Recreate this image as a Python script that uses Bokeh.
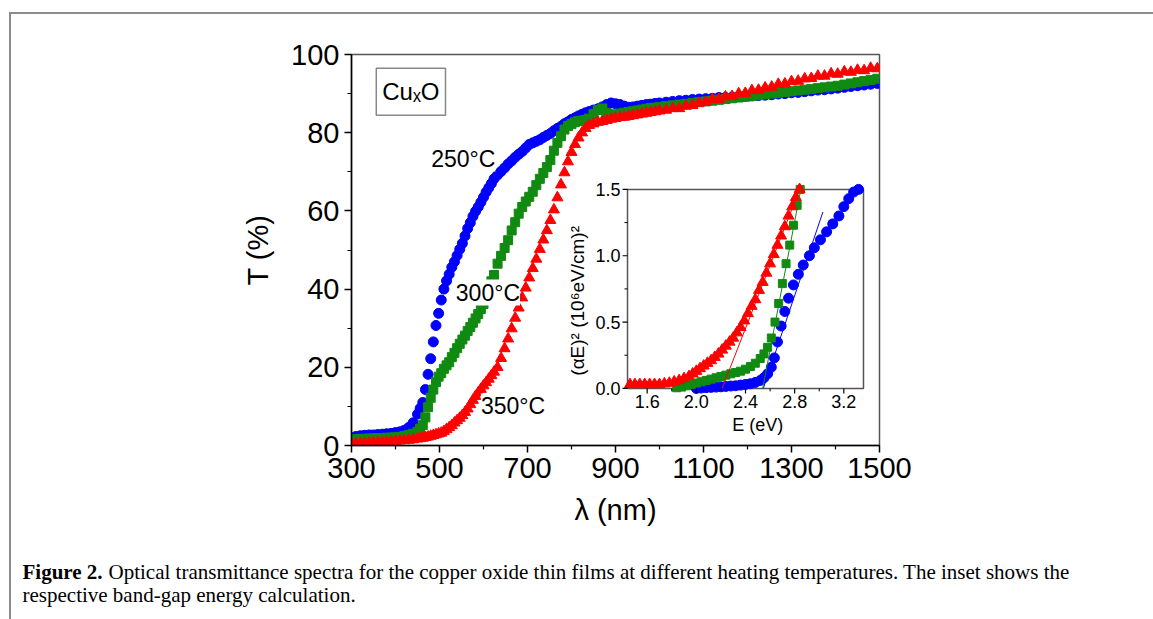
from math import pi
from bokeh.plotting import figure
from bokeh.layouts import column
from bokeh.models import Range1d, FixedTicker, Label
from bokeh.core.properties import value
from bokeh.embed import file_html
from bokeh.resources import INLINE

# ---------------- main spectra (wavelength in nm, transmittance in %) ----------------
WL = [300, 310, 320, 330, 340, 350, 360, 370, 380, 390, 400, 410, 420, 430, 440, 450,
      456, 462, 468, 474, 480, 486, 492, 498, 504, 510, 516, 522, 528, 534, 540, 546, 552,
      558, 564, 570, 576, 582, 588, 594, 600, 606, 612, 618, 624,
      632, 640, 648, 656, 664, 672, 680, 688, 696, 704, 712, 720, 728, 736, 744, 752, 760,
      768, 776, 784, 792, 800, 808, 816, 824, 832, 840,
      850, 860, 870, 880, 890, 900, 910, 920, 930, 940, 950, 960, 970, 980, 990, 1000,
      1015, 1030, 1045, 1060, 1075, 1090, 1105, 1120, 1135, 1150, 1165, 1180, 1195, 1210,
      1225, 1240, 1255, 1270, 1285, 1300, 1315, 1330, 1345, 1360, 1375, 1390, 1405, 1420,
      1435, 1450, 1465, 1480, 1495]

T_250 = [2.0, 2.3, 2.5, 2.6, 2.7, 2.7, 2.8, 2.9, 3.0, 3.1, 3.3, 3.5, 3.9, 4.6, 5.8, 8.0,
         9.5, 11.0, 14.3, 18.2, 22.2, 26.5, 30.7, 33.8, 37.2, 40.0, 42.1, 43.8, 45.6, 47.0, 48.6,
         50.2, 51.7, 53.6, 55.5, 57.0, 58.6, 59.9, 61.0, 62.2, 63.5, 64.8, 65.9, 67.0, 68.2,
         69.2, 70.1, 71.0, 72.0, 72.8, 73.7, 74.5, 75.2, 76.1, 77.0, 77.4, 77.8, 78.2, 78.8,
         79.3, 79.8, 80.5, 81.1, 81.6, 82.3, 82.8, 83.4, 83.8, 84.3, 84.7, 85.1, 85.4,
         85.8, 86.1, 86.6, 87.2, 87.6, 87.4, 87.2, 86.8, 86.5, 86.6, 86.8, 87.0, 87.2, 87.3,
         87.5, 87.6,
         87.8, 88.0, 88.2, 88.3, 88.5, 88.6, 88.7, 88.8, 89.0, 89.0, 89.1, 89.2, 89.3, 89.4,
         89.5, 89.6, 89.7, 89.9, 90.0, 90.2, 90.3, 90.5, 90.7, 90.9, 91.0, 91.2, 91.4, 91.6,
         91.8, 92.0, 92.2, 92.4, 92.6]

T_300 = [1.5, 1.6, 1.7, 1.7, 1.8, 1.8, 1.9, 1.9, 2.0, 2.0, 2.1, 2.2, 2.4, 2.7, 3.0, 3.5,
         4.3, 5.2, 7.2, 9.8, 12.2, 14.3, 16.2, 17.6, 18.5, 19.6, 20.5, 21.3, 22.6, 23.7, 24.9,
         26.0, 27.1, 28.1, 29.3, 30.3, 31.4, 32.5, 33.6, 34.9, 36.2, 38.0, 40.0, 42.0, 43.6,
         46.5, 48.5, 50.5, 52.5, 55.0, 57.1, 59.3, 61.0, 62.4, 63.6, 64.9, 66.6, 68.2, 69.7,
         71.2, 73.0, 75.4, 77.4, 79.1, 80.8, 81.7, 82.2, 82.7, 83.0, 83.1, 83.3, 83.6,
         84.8, 85.8, 86.2, 85.0, 84.6, 84.7, 84.9, 85.1, 85.3, 85.5, 85.7, 85.9, 86.1, 86.3,
         86.4, 86.6,
         86.8, 87.0, 87.2, 87.4, 87.6, 87.8, 88.0, 88.2, 88.4, 88.6, 88.8, 89.0, 89.2, 89.4,
         89.6, 89.8, 90.0, 90.2, 90.4, 90.6, 90.8, 91.0, 91.2, 91.4, 91.6, 91.8, 92.0, 92.3,
         92.6, 92.9, 93.2, 93.5, 93.8]

T_350 = [0.5, 0.5, 0.6, 0.6, 0.7, 0.7, 0.8, 0.8, 0.9, 1.0, 1.1, 1.2, 1.3, 1.4, 1.5, 1.7,
         1.8, 1.9, 2.1, 2.2, 2.4, 2.6, 2.8, 3.0, 3.2, 3.6, 4.1, 4.6, 5.1, 5.8, 6.4, 7.0, 7.7,
         8.5, 9.4, 10.5, 11.6, 12.6, 13.5, 14.4, 15.3, 16.1, 17.0, 17.9, 18.8,
         20.0, 22.3, 24.8, 27.3, 29.9, 32.6, 35.2, 37.8, 40.3, 42.9, 45.3, 47.7, 50.2, 52.6,
         55.0, 57.6, 60.3, 63.4, 66.7, 69.8, 72.6, 75.0, 77.0, 78.7, 80.0, 81.1, 81.9,
         82.3, 82.7, 82.9, 83.2, 83.5, 83.7, 83.9, 84.0, 84.2, 84.4, 84.6, 84.8, 85.0, 85.2,
         85.4, 85.6,
         85.8, 86.2, 86.2, 86.8, 87.0, 87.6, 87.8, 88.5, 88.6, 89.2, 89.3, 90.0, 90.1, 90.8,
         90.9, 91.5, 91.7, 92.4, 92.5, 93.1, 93.2, 93.8, 93.9, 94.5, 94.5, 95.1, 95.0, 95.6,
         95.5, 96.0, 95.9, 96.5, 96.4]

X_TICKS = [300, 500, 700, 900, 1100, 1300, 1500]
X_MINOR = [400, 600, 800, 1000, 1200, 1400]
Y_TICKS = [0, 20, 40, 60, 80, 100]
Y_MINOR = [10, 30, 50, 70, 90]

TEMP_LABELS = ["250°C", "300°C", "350°C"]
TEMP_LABEL_X = [554, 610, 667]
TEMP_LABEL_Y = [73.4, 39.1, 10.0]

# ---------------- inset: (alpha E)^2 vs E ----------------
E_350 = [1.46, 1.50, 1.54, 1.58, 1.62, 1.66, 1.70, 1.74, 1.78, 1.82, 1.86, 1.90, 1.94, 1.97,
         2.00, 2.03, 2.06, 2.09, 2.12, 2.15, 2.18, 2.21, 2.24, 2.27, 2.30, 2.33, 2.36, 2.39,
         2.42, 2.45, 2.48, 2.51, 2.54, 2.57, 2.60, 2.63, 2.66, 2.69, 2.72, 2.75, 2.78, 2.81, 2.84]
A_350 = [0.03, 0.03, 0.03, 0.03, 0.03, 0.03, 0.03, 0.035, 0.04, 0.05, 0.06, 0.075, 0.09, 0.11,
         0.13, 0.15, 0.17, 0.19, 0.21, 0.235, 0.26, 0.29, 0.32, 0.35, 0.38, 0.42, 0.46, 0.51,
         0.565, 0.62, 0.67, 0.74, 0.80, 0.87, 0.94, 1.01, 1.08, 1.15, 1.22, 1.30, 1.37, 1.44, 1.50]

E_300 = [1.84, 1.88, 1.92, 1.96, 2.00, 2.04, 2.08, 2.12, 2.16, 2.20, 2.24, 2.28, 2.32, 2.36,
         2.40, 2.44, 2.48, 2.52, 2.55, 2.58, 2.61, 2.64, 2.67, 2.70, 2.73, 2.76, 2.79, 2.82, 2.845]
A_300 = [0.005, 0.01, 0.02, 0.03, 0.04, 0.05, 0.06, 0.07, 0.08, 0.09, 0.10, 0.11, 0.12, 0.13,
         0.145, 0.165, 0.19, 0.225, 0.26, 0.31, 0.38, 0.50, 0.64, 0.79, 0.94, 1.08, 1.23, 1.38, 1.50]

E_250 = [2.00, 2.04, 2.08, 2.12, 2.16, 2.20, 2.24, 2.28, 2.32, 2.36, 2.40, 2.44, 2.48, 2.52,
         2.55, 2.58, 2.61, 2.635, 2.66, 2.69, 2.72, 2.75, 2.79, 2.83, 2.87, 2.92, 2.96, 3.01,
         3.06, 3.11, 3.16, 3.20, 3.24, 3.28, 3.32]
A_250 = [0.0, 0.003, 0.006, 0.008, 0.01, 0.012, 0.015, 0.018, 0.02, 0.025, 0.03, 0.035, 0.045,
         0.06, 0.08, 0.11, 0.16, 0.23, 0.35, 0.47, 0.58, 0.68, 0.78, 0.86, 0.93, 1.00, 1.06, 1.12,
         1.18, 1.24, 1.30, 1.37, 1.43, 1.48, 1.50]

FIT_350_E = [2.21, 2.84]
FIT_350_A = [0.0, 1.5]
FIT_300_E = [2.54, 2.85]
FIT_300_A = [0.0, 1.5]
FIT_250_E = [2.545, 3.03]
FIT_250_A = [0.0, 1.33]

INS_E_RANGE = (1.44, 3.36)
INS_A_RANGE = (0.0, 1.5)
INS_X_TICKS = [1.6, 2.0, 2.4, 2.8, 3.2]
INS_X_LABELS = ["1.6", "2.0", "2.4", "2.8", "3.2"]
INS_X_MINOR = [1.8, 2.2, 2.6, 3.0]
INS_Y_TICKS = [0.0, 0.5, 1.0, 1.5]
INS_Y_LABELS = ["0.0", "0.5", "1.0", "1.5"]
INS_Y_MINOR = [0.25, 0.75, 1.25]

# where the inset sits inside the main plot (main-plot data units)
INS_TARGET_X = (927.3, 1463.6)
INS_TARGET_Y = (14.6, 65.5)

BLUE = "#0000ff"
GREEN = "#118a11"
RED = "#ff0000"
FONT = "Liberation Sans"
SERIF = "Liberation Serif"

CAPTION_BOLD = "Figure 2."
CAPTION_1 = ("Optical transmittance spectra for the copper oxide thin films at different "
             "heating temperatures. The inset shows the")
CAPTION_2 = "respective band-gap energy calculation."

# ---------------- main figure ----------------
p = figure(width=1142, height=531, output_backend="svg", toolbar_location=None,
           x_range=Range1d(300, 1500), y_range=Range1d(0, 100),
           min_border_left=340, min_border_right=274, min_border_top=40,
           min_border_bottom=100)
p.grid.visible = False
p.background_fill_color = "white"
p.border_fill_color = "white"
p.outline_line_color = "#555555"
p.outline_line_width = 1.5

p.xaxis.ticker = FixedTicker(ticks=X_TICKS, minor_ticks=X_MINOR)
p.yaxis.ticker = FixedTicker(ticks=Y_TICKS, minor_ticks=Y_MINOR)
p.xaxis.axis_label = "λ (nm)"
p.yaxis.axis_label = "T (%)"
for ax in (p.xaxis[0], p.yaxis[0]):
    ax.axis_line_color = "black"
    ax.axis_line_width = 1.5
    ax.major_tick_in = 0
    ax.major_tick_out = 7
    ax.minor_tick_in = 0
    ax.minor_tick_out = 4
    ax.major_tick_line_width = 1.5
    ax.minor_tick_line_width = 1.2
    ax.major_tick_line_color = "black"
    ax.minor_tick_line_color = "black"
    ax.major_label_text_font = FONT
    ax.major_label_text_font_size = "29px"
    ax.major_label_text_color = "black"
    ax.axis_label_text_font = FONT
    ax.axis_label_text_font_size = "29px"
    ax.axis_label_text_font_style = "normal"
    ax.axis_label_text_color = "black"
p.yaxis.major_label_orientation = "horizontal"
p.xaxis.axis_label_standoff = 13
p.yaxis.axis_label_standoff = 14

p.scatter(WL, T_250, marker="circle", size=10, color=BLUE)
p.scatter(WL, T_300, marker="square", size=9, color=GREEN)
p.scatter(WL, T_350, marker="triangle", size=11, color=RED)

for txt, lx, ly in zip(TEMP_LABELS, TEMP_LABEL_X, TEMP_LABEL_Y):
    p.add_layout(Label(x=lx, y=ly, text=txt, text_align="center", text_baseline="middle",
                       text_font=FONT, text_font_size="23px", text_color="black",
                       background_fill_color="white"))

try:
    cu = Label(x=435, y=90.5, text="CuₓO", text_align="center", text_baseline="middle",
               text_font=FONT, text_font_size="24px", text_color="black",
               border_line_color="#888888", border_line_width=1.5,
               background_fill_color="white", padding=(6, 10))
except Exception:
    cu = Label(x=435, y=90.5, text="CuₓO", text_align="center", text_baseline="middle",
               text_font=FONT, text_font_size="24px", text_color="black",
               border_line_color="#888888", border_line_width=1.5,
               background_fill_color="white")
p.add_layout(cu)

# ---------------- inset drawn in a sub-coordinate system ----------------
ins = p.subplot(x_source=Range1d(*INS_E_RANGE), y_source=Range1d(*INS_A_RANGE),
                x_target=Range1d(*INS_TARGET_X), y_target=Range1d(*INS_TARGET_Y))
E0, E1 = INS_E_RANGE
A0, A1 = INS_A_RANGE
ins.quad(left=[E0], right=[E1], bottom=[A0], top=[A1], fill_color="white",
         line_color="#555555", line_width=1.5)
ins.scatter(E_250, A_250, marker="circle", size=10, color=BLUE)
ins.scatter(E_300, A_300, marker="square", size=8, color=GREEN)
ins.scatter(E_350, A_350, marker="triangle", size=11, color=RED)
ins.line(FIT_250_E, FIT_250_A, line_color=BLUE, line_width=1)
ins.line(FIT_300_E, FIT_300_A, line_color=GREEN, line_width=1)
ins.line(FIT_350_E, FIT_350_A, line_color=RED, line_width=1)

ins.ray(x=INS_X_TICKS, y=[A0] * len(INS_X_TICKS), length=5, length_units="screen",
        angle=-pi / 2, line_color="black", line_width=1.2)
ins.ray(x=INS_X_MINOR, y=[A0] * len(INS_X_MINOR), length=3, length_units="screen",
        angle=-pi / 2, line_color="black", line_width=1)
ins.ray(x=[E0] * len(INS_Y_TICKS), y=INS_Y_TICKS, length=5, length_units="screen",
        angle=pi, line_color="black", line_width=1.2)
ins.ray(x=[E0] * len(INS_Y_MINOR), y=INS_Y_MINOR, length=3, length_units="screen",
        angle=pi, line_color="black", line_width=1)

ins.text(x=INS_X_TICKS, y=[A0] * len(INS_X_TICKS), text=INS_X_LABELS,
         text_align="center", text_baseline="top", y_offset=7,
         text_font=value(FONT), text_font_size=value("18px"), text_color="black")
ins.text(x=[E0] * len(INS_Y_TICKS), y=INS_Y_TICKS, text=INS_Y_LABELS,
         text_align="right", text_baseline="middle", x_offset=-7,
         text_font=value(FONT), text_font_size=value("18px"), text_color="black")
ins.text(x=[2.5], y=[A0], text=["E (eV)"], text_align="center", text_baseline="top",
         y_offset=27, text_font=value(FONT), text_font_size=value("18px"), text_color="black")
ins.text(x=[E0], y=[0.66], text=["(αE)² (10⁶eV/cm)²"], angle=pi / 2,
         text_align="center", text_baseline="bottom", x_offset=-40,
         text_font=value(FONT), text_font_size=value("19px"), text_color="black")

# ---------------- caption strip (pixel-like coordinates, y downwards) ----------------
cap = figure(width=1142, height=74, output_backend="svg", toolbar_location=None,
             x_range=Range1d(0, 1142), y_range=Range1d(74, 0), min_border=0,
             min_border_left=0, min_border_right=0, min_border_top=0, min_border_bottom=0)
cap.axis.visible = False
cap.grid.visible = False
cap.outline_line_color = None
cap.background_fill_color = "white"
cap.border_fill_color = "white"
for fig in (p, cap):
    try:
        fig.frame_align = False
    except Exception:
        pass
cap.add_layout(Label(x=11, y=26, text=CAPTION_BOLD, text_font=SERIF,
                     text_font_style="bold", text_font_size="21px",
                     text_baseline="alphabetic", text_color="black"))
cap.add_layout(Label(x=97, y=26, text=CAPTION_1, text_font=SERIF, text_font_size="21px",
                     text_baseline="alphabetic", text_color="black"))
cap.add_layout(Label(x=11, y=49, text=CAPTION_2, text_font=SERIF, text_font_size="21px",
                     text_baseline="alphabetic", text_color="black"))

page = column(p, cap, spacing=0,
              styles={"margin-left": "9px", "margin-top": "12px",
                      "border-top": "2px solid #8c8c8c",
                      "border-left": "2px solid #8c8c8c"})

open("out.html", "w").write(file_html(page, INLINE))
